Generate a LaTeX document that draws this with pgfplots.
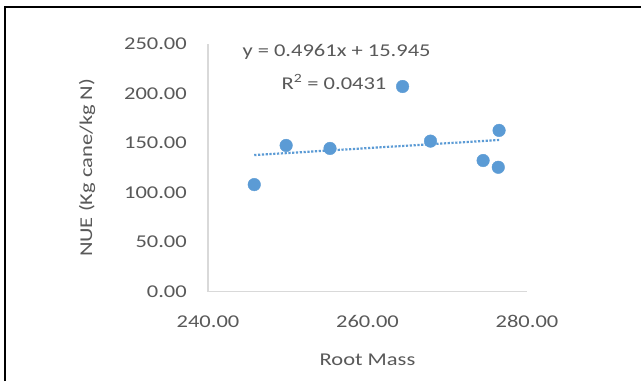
\documentclass[border=0pt]{standalone}
\usepackage{fontspec}
\setmainfont{Carlito}[FakeStretch=1.25]
\usepackage{pgfplots}
\pgfplotsset{compat=1.18}
\definecolor{txt}{HTML}{595959}
\definecolor{axl}{HTML}{D9D9D9}
\definecolor{pts}{HTML}{5B9BD5}
\begin{document}
\begin{tikzpicture}
\useasboundingbox (0pt,0pt) rectangle (641pt,-381pt);
\fill[white] (0pt,0pt) rectangle (641pt,-381pt);
\draw[line width=2pt, black] (5pt,-381pt) -- (5pt,-7pt) -- (641pt,-7pt);
\begin{axis}[
  at={(208pt,-291.7pt)}, anchor=south west,
  scale only axis, width=319pt, height=247.7pt,
  xmin=240, xmax=280, ymin=0, ymax=250,
  xtick={240,260,280}, ytick={0,50,100,150,200,250},
  axis x line*=bottom, axis y line*=left,
  axis line style={axl, line width=1.4pt, -},
  major tick length=0pt,
  /pgf/number format/.cd, fixed, fixed zerofill, precision=2, assume math mode=true,
  /pgfplots/.cd,
  tick label style={font=\fontsize{18}{22}\selectfont, text=txt, inner sep=0pt},
  xticklabel style={anchor=center, yshift=-30pt},
  yticklabel style={anchor=east, xshift=-21pt},
  xlabel={Root Mass},
  ylabel={NUE (Kg cane/kg N)},
  every axis x label/.style={at={([yshift=-68pt]axis description cs:0.5,0)}, anchor=center, font=\fontsize{18}{22}\selectfont, text=txt, inner sep=0pt},
  every axis y label/.style={at={([xshift=-121pt]axis description cs:0,0.5)}, rotate=90, anchor=center, font=\fontsize{18}{22}\selectfont, text=txt, inner sep=0pt},
  clip=false,
]
\addplot[only marks, mark=*, mark size=6.3pt, mark options={draw=pts, fill=pts}] coordinates {
  (245.8,108.1) (249.8,147.6) (255.3,144.6) (264.4,207.1)
  (267.9,152.0) (276.5,162.8) (274.5,132.4) (276.4,125.6)
};
\addplot[pts, line width=2.2pt, dash pattern=on 2.2pt off 1.6pt] coordinates {
  (245.8,137.9) (276.5,153.1)
};
\node[font=\fontsize{18}{22}\selectfont, text=txt, inner sep=0pt, anchor=center] at (rel axis cs:0.403,0.968) {y = 0.4961x + 15.945};
\node[font=\fontsize{18}{22}\selectfont, text=txt, inner sep=0pt, anchor=center] at (rel axis cs:0.395,0.847) {R\textsuperscript{2} = 0.0431};
\end{axis}
\end{tikzpicture}
\end{document}
